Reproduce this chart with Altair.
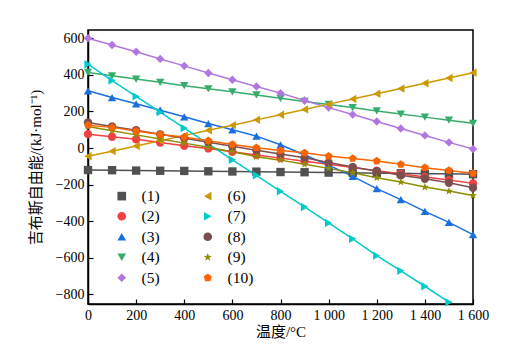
import altair as alt
import pandas as pd

temps = list(range(0, 1700, 100))
names = ["(1)", "(2)", "(3)", "(4)", "(5)", "(6)", "(7)", "(8)", "(9)", "(10)"]
s1 = [-120, -121, -123, -124, -125, -127, -128, -129, -131, -132, -134, -135, -137, -138, -140, -141, -143]
s2 = [76, 62, 48, 30, 13, -2, -20, -38, -55, -72, -89, -106, -124, -141, -158, -175, -193]
s3 = [313, 276, 242, 207, 171, 134, 100, 65, 18, -38, -93, -155, -222, -282, -346, -406, -473]
s4 = [413, 395, 377, 359, 341, 324, 307, 290, 272, 255, 238, 221, 203, 186, 169, 152, 135]
s5 = [600, 563, 526, 487, 449, 410, 373, 336, 300, 260, 221, 183, 145, 107, 69, 31, -5]
s6 = [-45, -17, 11, 40, 68, 97, 125, 154, 182, 211, 240, 268, 297, 325, 354, 383, 412]
s7 = [458, 369, 282, 196, 109, 23, -64, -149, -236, -322, -409, -496, -588, -671, -755, -842]
s8 = [140, 118, 97, 75, 53, 32, 10, -12, -33, -53, -79, -104, -126, -149, -168, -190, -217]
s9 = [118, 95, 72, 50, 27, 4, -20, -47, -66, -89, -111, -135, -162, -186, -213, -235, -259]
s10 = [125, 113, 93, 74, 60, 40, 20, 2, -13, -26, -44, -57, -71, -89, -107, -122, -138]
series = [s1, s2, s3, s4, s5, s6, s7, s8, s9, s10]

colors = ["#515151", "#F14040", "#1A6FDF", "#37AD6B", "#B177DE",
          "#CC9900", "#00CBCC", "#7D4E4E", "#8E8E00", "#FB6501"]
star = "M0,-1L0.235,-0.324L0.951,-0.309L0.380,0.124L0.588,0.809L0,0.4L-0.588,0.809L-0.380,0.124L-0.951,-0.309L-0.235,-0.324Z"
pentagon = "M0,-1L0.951,-0.309L0.588,0.809L-0.588,0.809L-0.951,-0.309Z"
shapes = ["square", "circle", "triangle-up", "triangle-down", "diamond",
          "triangle-left", "triangle-right", "circle", star, pentagon]

x_ticks = list(range(0, 1700, 200))
y_ticks = list(range(-800, 700, 200))

rows = []
for i, (n, vals) in enumerate(zip(names, series)):
    for t, v in zip(temps, vals):
        rows.append({"T": t, "G": v, "name": n, "order": i})
df = pd.DataFrame(rows)

serif = "Liberation Serif, Noto Sans CJK SC"
xs = alt.Scale(domain=[0, 1600], nice=False, zero=False)
ys = alt.Scale(domain=[-852, 645], nice=False, zero=False)

color = alt.Color("name:N", scale=alt.Scale(domain=names, range=colors),
                  legend=alt.Legend(title=None, orient="none", legendX=26, legendY=158,
                                    columns=2, columnPadding=40, rowPadding=3.5,
                                    labelFont=serif, labelFontSize=15.5, labelOffset=12,
                                    symbolSize=75, symbolStrokeWidth=0, padding=0))
shape = alt.Shape("name:N", scale=alt.Scale(domain=names, range=shapes), legend=alt.Legend(title=None))

base = alt.Chart(df)
lines = base.mark_line(strokeWidth=1.5).encode(
    x=alt.X("T:Q", scale=xs, axis=alt.Axis(values=x_ticks, tickSize=0, title="温度/°C",
            labelExpr="datum.value >= 1000 ? replace(format(datum.value, ','), ',', ' ') : format(datum.value, 'd')",
            labelFlush=False, labelPadding=4, titlePadding=2)),
    y=alt.Y("G:Q", scale=ys, axis=alt.Axis(values=y_ticks, tickSize=0, title="吉布斯自由能/(kJ·mol⁻¹)",
            labelFlush=False, labelPadding=4, titlePadding=12)),
    color=color,
    detail="name:N",
    order="order:Q",
)
points = base.mark_point(filled=True, size=70, opacity=1).encode(
    x=alt.X("T:Q", scale=xs, axis=alt.Axis(orient="bottom", values=x_ticks, offset=-5, tickSize=5,
            labels=False, domain=False, title=None)),
    y=alt.Y("G:Q", scale=ys, axis=alt.Axis(orient="left", values=y_ticks, offset=-5, tickSize=5,
            labels=False, domain=False, title=None)),
    color=color,
    shape=shape,
)

chart = alt.layer(lines, points).resolve_axis(x="independent", y="independent").properties(
    width=385, height=274,
    autosize=alt.AutoSizeParams(type="none"),
    padding={"left": 80, "top": 22, "right": 20, "bottom": 40},
).configure_axis(
    labelFont=serif, labelFontSize=14, labelColor="black",
    titleFont=serif, titleFontSize=15, titleFontWeight="normal", titleColor="black",
    domainColor="black", domainWidth=1.5, tickColor="black", tickWidth=1.2, grid=False,
).configure_view(stroke="black", strokeWidth=1.5)

chart.save("out.html", embed_options={"renderer": "svg", "actions": False})
